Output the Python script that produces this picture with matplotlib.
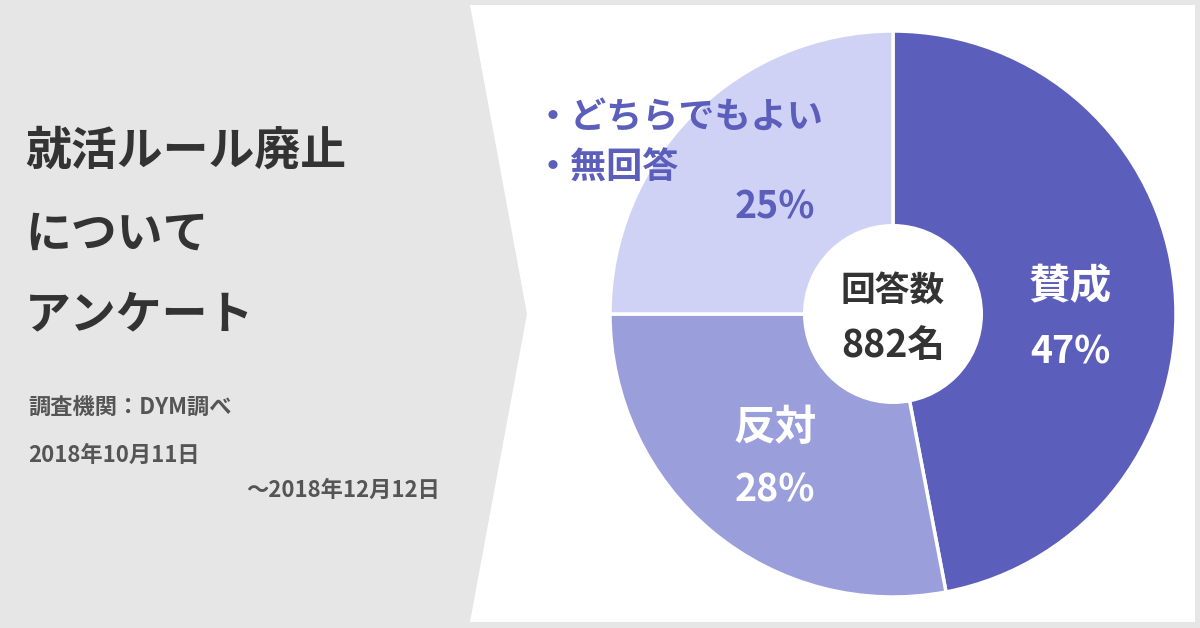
import matplotlib
matplotlib.use("Agg")
import matplotlib.pyplot as plt
from matplotlib.patches import Polygon, Circle

plt.rcParams['font.family'] = ['Noto Sans CJK JP', 'DejaVu Sans']

labels = ["賛成", "反対", "どちらでもよい・無回答"]
shares = [47, 28, 25]
colors = ["#5b5fbb", "#9a9fdc", "#d0d2f5"]
total = 882

fig = plt.figure(figsize=(12, 6.28), dpi=100)
fig.patch.set_facecolor("#e6e6e6")
ax = fig.add_axes([0, 0, 1, 1])
ax.set_xlim(0, 1200)
ax.set_ylim(0, 628)
ax.set_aspect("equal")
ax.axis("off")

def Y(y):
    return 628 - y

# white panel with arrow notch
ax.add_patch(Polygon([(470, Y(5)), (1195, Y(5)), (1195, Y(622)), (470, Y(622)), (527, Y(314))],
                     closed=True, facecolor="white", edgecolor="none"))

cx, cy, r = 893, Y(314), 283
ax.pie(shares, colors=colors, center=(cx, cy), radius=r, startangle=90, counterclock=False,
       wedgeprops=dict(edgecolor="white", linewidth=2.5), frame=True)
ax.set_xlim(0, 1200)
ax.set_ylim(0, 628)
ax.axis("off")
ax.add_patch(Circle((cx, cy), 90, facecolor="white", edgecolor="none", zorder=5))

ax.text(cx, Y(290), "回答数", ha="center", va="center", fontsize=25, fontweight="bold", color="#333333", zorder=6)
ax.text(cx, Y(345), f"{total}名", ha="center", va="center", fontsize=27, fontweight="bold", color="#333333", zorder=6)

ax.text(1070, Y(287), labels[0], ha="center", va="center", fontsize=30, fontweight="bold", color="white")
ax.text(1070, Y(352), f"{shares[0]}%", ha="center", va="center", fontsize=27, fontweight="bold", color="white")
ax.text(775, Y(428), labels[1], ha="center", va="center", fontsize=30, fontweight="bold", color="white")
ax.text(775, Y(490), f"{shares[1]}%", ha="center", va="center", fontsize=27, fontweight="bold", color="white")
ax.text(535, Y(118), "・どちらでもよい", ha="left", va="center", fontsize=26, fontweight="bold", color="#5b5fbb")
ax.text(535, Y(168), "・無回答", ha="left", va="center", fontsize=26, fontweight="bold", color="#5b5fbb")
ax.text(775, Y(207), f"{shares[2]}%", ha="center", va="center", fontsize=27, fontweight="bold", color="#5b5fbb")

# left panel text
for t, y in [("就活ルール廃止", 152), ("について", 235), ("アンケート", 315)]:
    ax.text(25, Y(y), t, ha="left", va="center", fontsize=33, fontweight="bold", color="#333333")
ax.text(28, Y(408), "調査機関：DYM調べ", ha="left", va="center", fontsize=16, fontweight="bold", color="#555555")
ax.text(28, Y(455), "2018年10月11日", ha="left", va="center", fontsize=16, fontweight="bold", color="#555555")
ax.text(440, Y(490), "～2018年12月12日", ha="right", va="center", fontsize=16, fontweight="bold", color="#555555")

fig.savefig("out.png", dpi=100, facecolor=fig.get_facecolor())
